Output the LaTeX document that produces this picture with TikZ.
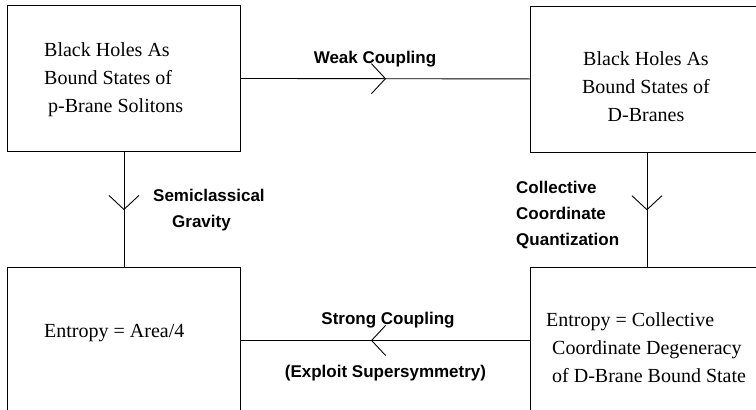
\documentclass[tikz,border=0pt]{standalone}
\usepackage{fontspec}
\setmainfont{Liberation Serif}
\setsansfont{Liberation Sans}
\usetikzlibrary{decorations.markings}
\begin{document}
\begin{tikzpicture}[x=1pt,y=-1pt,
  box/.style={draw, line width=0.9pt, rectangle, minimum width=233pt, minimum height=146pt, anchor=north west, inner sep=0pt},
  boxtext/.style={font=\fontsize{20}{28}\selectfont, inner sep=0pt},
  lbl/.style={font=\sffamily\bfseries\fontsize{17}{26}\selectfont, inner sep=0pt},
  conn/.style={line width=0.9pt, postaction={decorate},
    decoration={markings, mark=at position #1 with {\draw[line width=0.9pt] (-14pt,15pt) -- (0pt,0pt) -- (-14pt,-15pt);}}},
  conn/.default=0.5
]
\useasboundingbox (0,0) rectangle (756,410);
\clip (0,0) rectangle (756,410);
% boxes
\node[box] (tl) at (7,5) {};
\node[box] (tr) at (530,5.5) {};
\node[box] (bl) at (7,267) {};
\node[box] (br) at (530,267) {};
% box texts
\node[boxtext, anchor=west, align=left] (tltext) at (44,80) {Black Holes As\\Bound States of\\\hspace{4pt}p-Brane Solitons};
\node[boxtext, align=center] (trtext) at (646,87) {Black Holes As\\Bound States of\\D-Branes};
\node[boxtext, anchor=west] (bltext) at (44,333) {Entropy = Area/4};
\node[boxtext, anchor=west, align=left] (brtext) at (546,348) {Entropy = Collective\\\hspace{6pt}Coordinate Degeneracy\\\hspace{6pt}of D-Brane Bound State};
% connectors
\draw[conn] (tl.east) -- (tr.west);
\draw[conn] (tl.south) -- (bl.north);
\draw[conn] (tr.south) -- (br.north);
\draw[conn=0.548] (br.west) -- (bl.east);
% labels
\node[lbl] (weak) at (375,59) {Weak Coupling};
\node[lbl, anchor=west, align=left] (semi) at (153,210) {Semiclassical\\\hspace{19pt}Gravity};
\node[lbl, anchor=west, align=left] (coll) at (516,215) {Collective\\Coordinate\\Quantization};
\node[lbl] (strong) at (388,320) {Strong Coupling};
\node[lbl] (exploit) at (385.5,373) {(Exploit Supersymmetry)};
\end{tikzpicture}
\end{document}
